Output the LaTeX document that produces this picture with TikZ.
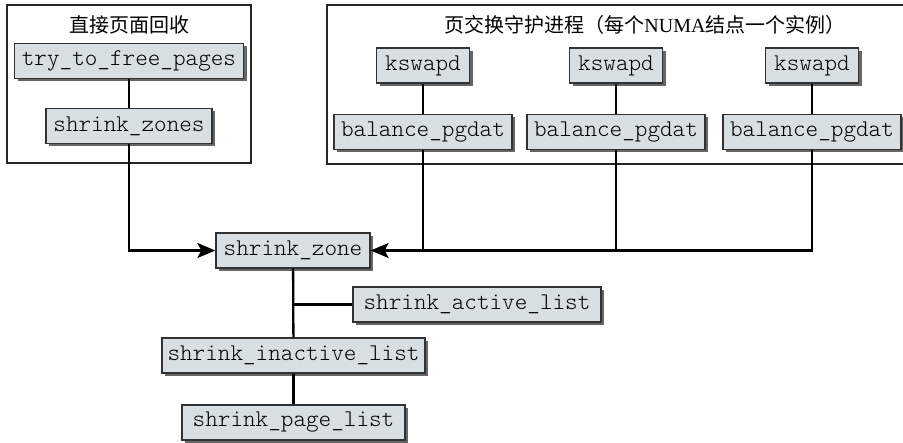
\documentclass[tikz,border=0pt]{standalone}
\usepackage{fontspec}
\setmainfont{Liberation Serif}
\setmonofont{Latin Modern Mono Light}
\newfontfamily\cjk{Noto Sans CJK SC}
\usetikzlibrary{arrows.meta,shadows}
\definecolor{boxfill}{RGB}{216,223,226}
\definecolor{boxline}{RGB}{50,50,50}
\tikzset{
  fn/.style={draw=boxline, line width=1.3pt, fill=boxfill, inner sep=0pt,
    minimum height=35pt, font=\ttfamily\fontsize{24}{26}\selectfont,
    drop shadow={shadow xshift=3pt, shadow yshift=-3pt, fill=black!60, opacity=1}},
  conn/.style={line width=2.3pt, black},
  arr/.style={conn, -{Stealth[length=18pt, width=15pt, inset=4pt]}},
  frame/.style={draw=black!85, line width=1.1pt},
  ttl/.style={font=\cjk\fontsize{20}{24}\selectfont, inner sep=0pt}
}
\begin{document}
\begin{tikzpicture}[x=1pt,y=-1pt]
\useasboundingbox (0,0) rectangle (903,443);
\fill[white] (0,0) rectangle (903,443);
% frames
\draw[frame] (7,5) rectangle (251,163);
\draw[frame] (327,5) rectangle (906,164);
\node[ttl] (t1) at (129,25) {直接页面回收};
\node[ttl] (t2) at (645,25) {页交换守护进程（每个{\rmfamily NUMA}结点一个实例）};
% nodes
\node[fn, minimum width=229pt] (ttfp) at (129,61) {try\_to\_free\_pages};
\node[fn, minimum width=166pt] (szs) at (129,126) {shrink\_zones};
\node[fn, minimum width=93pt] (k1) at (423,65.5) {kswapd};
\node[fn, minimum width=93pt] (k2) at (616,65.5) {kswapd};
\node[fn, minimum width=93pt] (k3) at (812,65.5) {kswapd};
\node[fn, minimum width=178pt] (b1) at (423,132) {balance\_pgdat};
\node[fn, minimum width=178pt] (b2) at (616,132) {balance\_pgdat};
\node[fn, minimum width=178pt] (b3) at (812,132) {balance\_pgdat};
\node[fn, minimum width=154pt] (sz) at (293,250.5) {shrink\_zone};
\node[fn, minimum width=248pt] (sal) at (477,304.5) {shrink\_active\_list};
\node[fn, minimum width=263pt] (sil) at (293.5,355.5) {shrink\_inactive\_list};
\node[fn, minimum width=223pt] (spl) at (293.5,422.5) {shrink\_page\_list};
% connectors
\draw[conn] (ttfp) -- (szs);
\draw[arr] (szs.south) |- (sz.west);
\draw[conn] (k1) -- (b1);
\draw[conn] (k2) -- (b2);
\draw[conn] (k3) -- (b3);
\draw[arr] (b3.south) |- (sz.east);
\draw[conn] (b1.south) -- (b1.south |- sz.east);
\draw[conn] (b2.south) -- (b2.south |- sz.east);
\draw[conn] (sz) -- (sil);
\draw[conn] (sz.south |- sal.west) -- (sal.west);
\draw[conn] (sil) -- (spl);
\end{tikzpicture}
\end{document}
